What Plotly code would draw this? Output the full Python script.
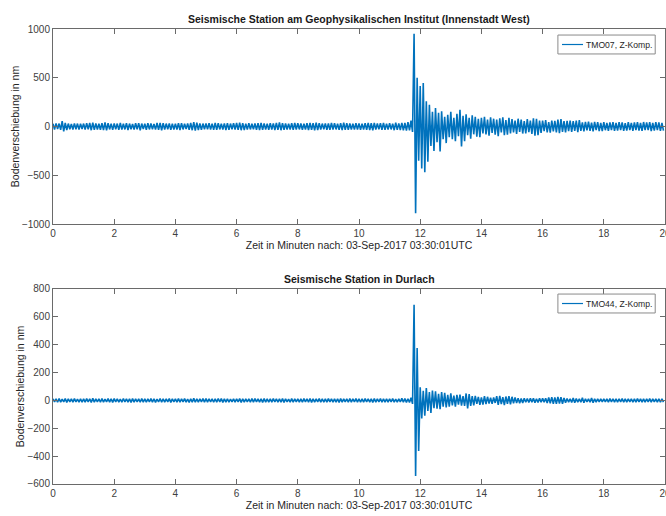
import plotly.graph_objects as go

# Sampling of the extreme values (minutes)
sample_step_min = 0.05

# Station TMO07 (Innenstadt West): alternating peak / trough values in nm, 20 per minute
tmo07_nm = [
    28, -30, 32, -26, 30, -34, 55, -50, 38, -36, 30, -28, 26, -30, 32, -28, 30, -32, 28, -26,
    30, -32, 34, -28, 36, -38, 40, -35, 32, -30, 28, -33, 35, -37, 42, -40, 33, -30, 30, -34,
    32, -28, 30, -35, 36, -32, 28, -30, 34, -36, 30, -28, 26, -31, 33, -29, 35, -38, 30, -27,
    29, -33, 34, -30, 31, -28, 27, -32, 36, -34, 38, -40, 34, -31, 30, -29, 32, -35, 28, -30,
    30, -31, 33, -36, 35, -30, 28, -27, 31, -33, 36, -38, 45, -42, 40, -36, 32, -34, 30, -28,
    31, -29, 34, -32, 30, -35, 37, -33, 33, -30, 29, -31, 32, -36, 35, -34, 30, -29, 33, -31,
    36, -34, 40, -38, 34, -36, 30, -32, 33, -30, 28, -29, 31, -34, 35, -37, 38, -35, 32, -30,
    30, -33, 34, -31, 32, -36, 37, -34, 42, -38, 35, -33, 31, -30, 29, -32, 33, -35, 36, -31,
    34, -30, 31, -33, 28, -31, 33, -36, 38, -34, 35, -39, 40, -37, 34, -32, 30, -29, 32, -34,
    31, -35, 36, -32, 33, -30, 30, -34, 35, -37, 39, -35, 34, -33, 31, -30, 29, -32, 33, -31,
    32, -34, 30, -31, 35, -33, 37, -36, 33, -38, 36, -32, 31, -29, 34, -35, 38, -33, 30, -32,
    35, -30, 30, -38, 40, -35, 32, -36, 38, -40, 36, -42, 45, -40, 60, -55, 950, -890, 500, -350,
    415, -430, 445, -470, 260, -360, 224, -200, 150, -250, 190, -160, 140, -255, 155, -130, 100, -170, 120, -110,
    150, -130, 90, -150, 130, -100, 172, -205, 110, -150, 125, -90, 90, -125, 115, -80, 100, -105, 80, -110,
    90, -70, 100, -80, 70, -95, 95, -65, 80, -85, 70, -100, 85, -60, 95, -90, 65, -85, 90, -70,
    75, -60, 60, -75, 80, -55, 70, -72, 55, -70, 75, -58, 60, -75, 85, -95, 80, -90, 60, -65,
    60, -48, 65, -60, 45, -62, 60, -50, 58, -60, 70, -68, 75, -55, 55, -60, 58, -48, 60, -55,
    55, -45, 60, -58, 65, -45, 42, -50, 48, -40, 50, -45, 40, -50, 48, -38, 45, -48, 38, -46,
    45, -38, 36, -44, 42, -36, 44, -45, 36, -42, 45, -36, 42, -44, 34, -42, 44, -36, 38, -45,
    42, -36, 45, -42, 36, -44, 46, -38, 42, -36, 44, -46, 36, -42, 45, -38, 42, -44, 36, -42,
]

# Station TMO44 (Durlach): alternating peak / trough values in nm, 20 per minute
tmo44_nm = [
    12, -10, 11, -13, 14, -12, 10, -11, 13, -14, 12, -10, 11, -12, 13, -11, 10, -12, 12, -13,
    11, -12, 13, -11, 12, -14, 15, -12, 11, -10, 12, -13, 14, -12, 10, -11, 13, -12, 12, -14,
    13, -11, 12, -12, 10, -13, 14, -11, 12, -12, 11, -14, 13, -12, 12, -10, 11, -13, 14, -12,
    12, -13, 11, -10, 13, -12, 12, -14, 10, -11, 14, -13, 12, -12, 11, -10, 13, -14, 12, -11,
    11, -12, 14, -13, 12, -11, 13, -12, 10, -14, 12, -12, 15, -13, 11, -12, 12, -11, 13, -12,
    13, -12, 12, -11, 11, -13, 12, -12, 14, -11, 13, -14, 11, -12, 12, -13, 10, -11, 12, -12,
    12, -11, 13, -14, 12, -12, 11, -10, 12, -13, 14, -12, 13, -11, 11, -12, 12, -14, 13, -12,
    11, -13, 12, -12, 14, -11, 12, -13, 11, -12, 13, -14, 12, -11, 10, -12, 13, -13, 12, -11,
    12, -12, 11, -13, 13, -11, 12, -12, 14, -14, 12, -12, 11, -10, 13, -12, 12, -13, 11, -12,
    13, -11, 12, -13, 11, -12, 12, -14, 13, -12, 11, -11, 12, -13, 14, -12, 12, -11, 13, -12,
    12, -13, 11, -12, 13, -11, 12, -12, 11, -14, 13, -12, 12, -11, 14, -13, 12, -12, 11, -12,
    12, -10, 14, -12, 10, -13, 12, -11, 15, -12, 13, -14, 12, -15, 20, -25, 687, -543, 376, -363,
    95, -130, 70, -110, 88, -75, 60, -90, 70, -55, 65, -60, 48, -62, 60, -45, 55, -50, 40, -45,
    50, -35, 35, -45, 40, -30, 42, -38, 30, -40, 50, -58, 45, -40, 30, -35, 32, -25, 25, -32,
    22, -30, 30, -26, 26, -22, 20, -25, 22, -18, 30, -32, 32, -26, 24, -34, 28, -24, 30, -28,
    26, -20, 22, -18, 16, -20, 14, -18, 15, -13, 14, -15, 16, -12, 15, -16, 12, -15, 16, -13,
    15, -12, 16, -18, 22, -20, 24, -25, 22, -24, 25, -22, 23, -24, 18, -16, 14, -12, 12, -14,
    18, -16, 13, -12, 11, -13, 19, -17, 12, -11, 11, -13, 18, -16, 11, -12, 12, -10, 12, -11,
    12, -11, 11, -12, 13, -11, 12, -12, 11, -13, 12, -11, 13, -12, 11, -12, 12, -11, 12, -13,
    11, -12, 13, -11, 12, -12, 11, -13, 12, -11, 13, -12, 12, -11, 11, -12, 12, -13, 11, -12,
]

time_07 = [i * sample_step_min for i in range(len(tmo07_nm))]
time_44 = [i * sample_step_min for i in range(len(tmo44_nm))]

titles = ["Seismische Station am Geophysikalischen Institut (Innenstadt West)",
          "Seismische Station in Durlach"]
legend_names = ["TMO07, Z-Komp.", "TMO44, Z-Komp."]
x_title = "Zeit in Minuten nach: 03-Sep-2017 03:30:01UTC"
y_title = "Bodenverschiebung in nm"
x_ticks = [0, 2, 4, 6, 8, 10, 12, 14, 16, 18, 20]
y_ticks_top = [-1000, -500, 0, 500, 1000]
y_ticks_bottom = [-600, -400, -200, 0, 200, 400, 600, 800]

LINE = "#0072BD"
AX = "#6a6a6a"
FONT = "Liberation Sans, Arial, sans-serif"

fig = go.Figure()
fig.add_trace(go.Scatter(x=time_07, y=tmo07_nm, mode="lines", name=legend_names[0],
                         line=dict(color=LINE, width=1.6), xaxis="x", yaxis="y"))
fig.add_trace(go.Scatter(x=time_44, y=tmo44_nm, mode="lines", name=legend_names[1],
                         line=dict(color=LINE, width=1.6), xaxis="x2", yaxis="y2"))

common_x = dict(range=[0, 20], tickvals=x_ticks, ticks="inside", ticklen=5, tickcolor=AX,
                showline=True, linecolor=AX, linewidth=1, mirror="ticks", showgrid=False,
                zeroline=False, automargin=False, ticklabeloverflow="allow",
                tickfont=dict(size=10, color="#404040"),
                title=dict(text=x_title, font=dict(size=10.5, color="#262626"), standoff=2))
common_y = dict(ticks="inside", ticklen=5, tickcolor=AX, showline=True, linecolor=AX,
                linewidth=1, mirror="ticks", showgrid=False, zeroline=False, automargin=False,
                tickfont=dict(size=10, color="#404040"),
                title=dict(text=y_title, font=dict(size=10.5, color="#262626"), standoff=0))

shapes = []
annotations = []
# manual legends (box, line sample, label) placed inside each subplot's domain
for k, (xr, yr, name) in enumerate([("x domain", "y domain", legend_names[0]),
                                     ("x2 domain", "y2 domain", legend_names[1])]):
    y0, y1 = (0.872, 0.969) if k == 0 else (0.877, 0.974)
    ym = (y0 + y1) / 2
    shapes.append(dict(type="rect", xref=xr, yref=yr, x0=0.825, x1=0.984, y0=y0, y1=y1,
                       fillcolor="white", line=dict(color="#8a8a8a", width=1), layer="above"))
    shapes.append(dict(type="line", xref=xr, yref=yr, x0=0.8317, x1=0.866, y0=ym, y1=ym,
                       line=dict(color=LINE, width=1.2), layer="above"))
    annotations.append(dict(text=name, xref=xr, yref=yr, x=0.868, y=ym, xanchor="left",
                            yanchor="middle", showarrow=False,
                            font=dict(size=8.6, color="#262626")))

annotations += [
    dict(text="<b>" + titles[0] + "</b>", xref="paper", yref="paper", x=0.5, y=1.022,
         xanchor="center", yanchor="middle", showarrow=False,
         font=dict(size=10.5, color="#1a1a1a")),
    dict(text="<b>" + titles[1] + "</b>", xref="paper", yref="paper", x=0.5, y=0.4505,
         xanchor="center", yanchor="middle", showarrow=False,
         font=dict(size=10.5, color="#1a1a1a")),
]

fig.update_layout(
    width=666, height=516,
    margin=dict(l=53, r=1, t=29, b=32),
    paper_bgcolor="white", plot_bgcolor="white",
    font=dict(family=FONT, color="#262626"),
    showlegend=False,
    xaxis=dict(common_x, domain=[0, 1], anchor="y"),
    yaxis=dict(common_y, domain=[0.5714, 1], range=[-1000, 1000], tickvals=y_ticks_top,
               anchor="x"),
    xaxis2=dict(common_x, domain=[0, 1], anchor="y2"),
    yaxis2=dict(common_y, domain=[0, 0.4286], range=[-600, 800], tickvals=y_ticks_bottom,
                anchor="x2"),
    shapes=shapes,
    annotations=annotations,
)

# remove the default page margin so the 666x516 figure fills the window exactly
fig.write_html("out.html", config={"displayModeBar": False},
               post_script="document.body.style.margin='0px';document.body.style.overflow='hidden';")
